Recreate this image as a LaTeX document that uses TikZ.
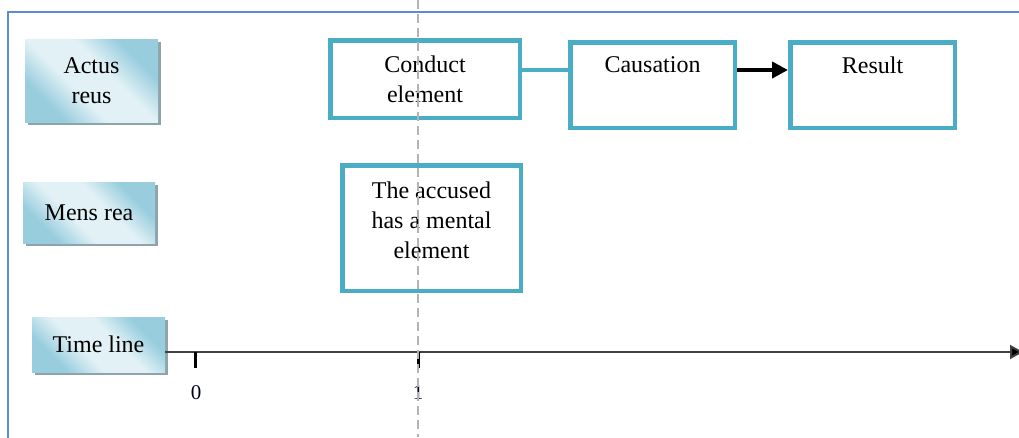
\documentclass[tikz,border=0pt]{standalone}
\usepackage{fontspec}
\setmainfont{Liberation Serif}
\usetikzlibrary{arrows.meta,shadows,calc}
\definecolor{tealb}{HTML}{4BACC6}
\definecolor{frameblue}{HTML}{5B8BD0}
\definecolor{lightc}{HTML}{E2F1F6}
\definecolor{darkc}{HTML}{98CDDE}
\definecolor{shadowc}{HTML}{8FA3AB}
\definecolor{dashc}{HTML}{B4B4B4}
\definecolor{axisc}{HTML}{404040}
\pgfdeclareverticalshading{lblshade}{100bp}{color(0bp)=(darkc); color(28bp)=(darkc); color(42bp)=(lightc); color(58bp)=(lightc); color(72bp)=(darkc); color(100bp)=(darkc)}
\begin{document}
\begin{tikzpicture}[x=1pt,y=-1pt,
  lblbox/.style={draw=none, shading=lblshade, shading angle=-45,
    drop shadow={shadow xshift=3pt,shadow yshift=-3pt,fill=shadowc,opacity=1},
    font=\fontsize{24}{30}\selectfont, align=center, inner sep=0pt},
  stagebox/.style={draw=tealb, line width=4.5pt, fill=white, inner sep=0pt,
    font=\fontsize{24}{30}\selectfont, align=center},
  txt/.style={font=\fontsize{24}{30}\selectfont, align=center, inner sep=0pt},
  ticklbl/.style={font=\fontsize{21}{24}\selectfont, text=black!85!blue, inner sep=0pt},
  tickmark/.style={line width=3pt, black},
]
\useasboundingbox (0,0) rectangle (1019,437);
% frame
\coordinate (fbl) at (8,445);
\coordinate (ftl) at (8,12);
\coordinate (ftr) at (1030,12);
\draw[frameblue, line width=1.5pt] (fbl) -- (ftl) -- (ftr);

% left labels
\node[lblbox, minimum width=133pt, minimum height=83pt] (actus) at (91.5,80.5) {Actus\\reus};
\node[lblbox, minimum width=132pt, minimum height=61pt] (mens) at (89,212.5) {Mens rea};
\node[lblbox, minimum width=133pt, minimum height=55pt] (timel) at (98.5,344.5) {Time line};

% stage boxes
\node[stagebox, minimum width=189.5pt, minimum height=77.5pt] (conduct) at (425,79) {Conduct\\element};
\node[stagebox, minimum width=164.5pt, minimum height=85.5pt] (causation) at (652.5,85) {};
\node[txt] (causationt) at (652.5,65) {Causation};
\node[stagebox, minimum width=164.5pt, minimum height=85.5pt] (result) at (872.5,85) {};
\node[txt] (resultt) at (872.5,65) {Result};
\node[stagebox, minimum width=178.5pt, minimum height=125.5pt] (mental) at (431.5,228) {};
\node[txt] (mentalt) at (431.5,220) {The accused\\has a mental\\element};

% connectors
\draw[tealb, line width=4.5pt] ([yshift=9pt]conduct.east) -- ([yshift=9pt]conduct.east -| causation.west);
\draw[black, line width=4pt, -{Triangle[length=16pt,width=16pt]}]
  ([yshift=15pt]causation.east) -- ([yshift=15pt]causation.east -| result.west);

% time line
\coordinate (tend) at (1023,352);
\coordinate (t0) at (195,352);
\coordinate (t1) at (418,352);
\draw[axisc, line width=2pt, -{Triangle[length=13pt,width=14pt,fill=black]}] ([yshift=-7.5pt]timel.east) -- (tend);
\draw[tickmark] (t0) -- ++(0,16);
\draw[tickmark] (t1) -- ++(0,16);
\node[ticklbl] (l0) at (196,393) {0};
\node[ticklbl] (l1) at (418,393) {1};

% dashed guide
\coordinate (dtop) at (418,0);
\coordinate (dbot) at (418,437);
\draw[dashc, line width=1.5pt, dash pattern=on 9pt off 5pt] (dtop) -- (dbot);
\end{tikzpicture}
\end{document}
